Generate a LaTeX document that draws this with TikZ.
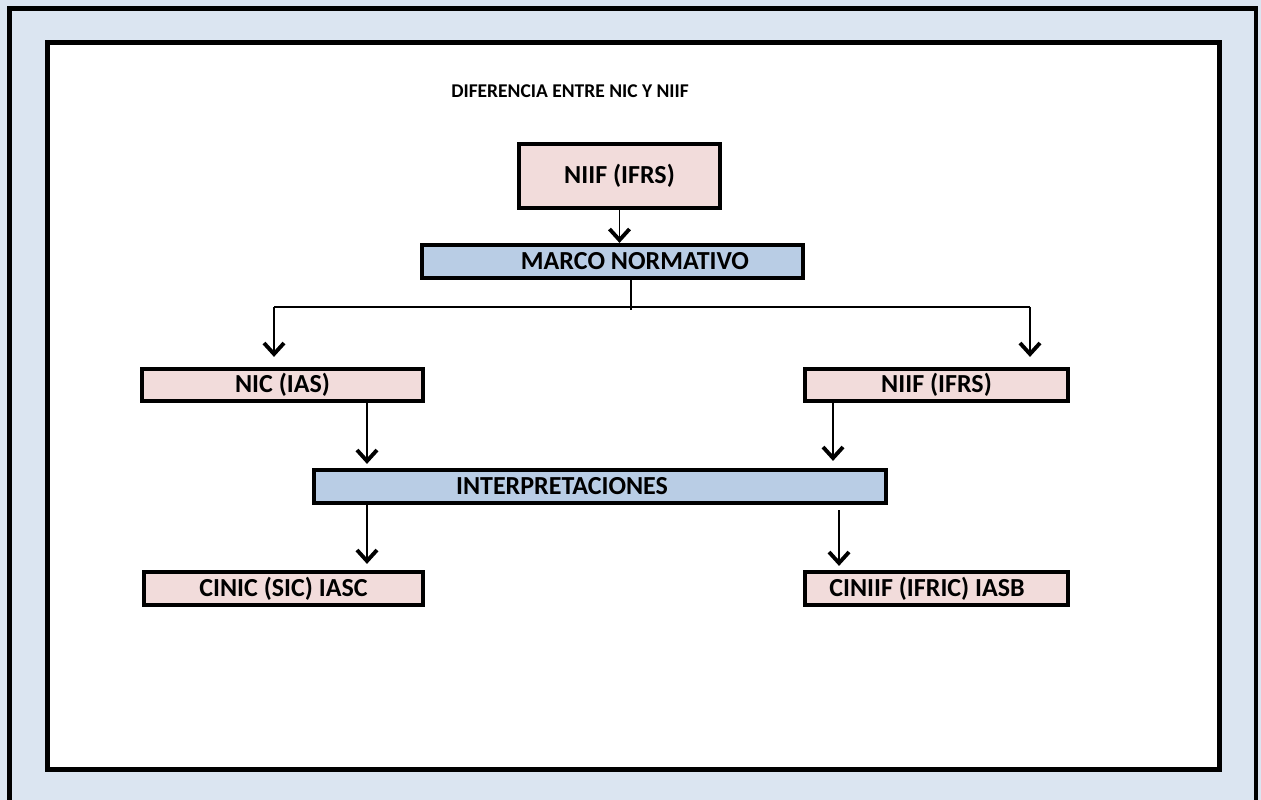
\documentclass[tikz,border=0pt]{standalone}
\usepackage{fontspec}
\setmainfont{Carlito}
\usetikzlibrary{arrows.meta}
\definecolor{pinkfill}{HTML}{F2DCDB}
\definecolor{bluefill}{HTML}{B9CDE5}
\definecolor{pagefill}{HTML}{DBE5F1}
\begin{document}
\begin{tikzpicture}[x=0.02cm, y=-0.02cm,
    pinkbox/.style ={rectangle, draw, line width=2.4pt, fill=pinkfill, inner sep=0pt, font=\fontsize{14.8}{17}\selectfont\bfseries},
    bluebox/.style ={rectangle, draw, line width=2.4pt, fill=bluefill, inner sep=0pt, font=\fontsize{14.8}{17}\selectfont\bfseries},
    link/.style ={line width=0.85pt},
    arr/.style ={line width=0.85pt, -{Straight Barb[length=0.22cm,width=0.4cm,line width=2.2pt]}}]
   \useasboundingbox (0,0) rectangle (1261,800);
   \fill[pagefill] (0,0) rectangle (1261,800);
   \draw[line width=2.8pt] (9.5,800) -- (9.5,8.5) -- (1256,8.5) -- (1256,800);
   \draw[line width=2.8pt, fill=white] (47.5,42.5) rectangle (1219.5,769.5);

   \node[font=\fontsize{11.1}{14}\selectfont\bfseries] (title) at (570,91) {DIFERENCIA ENTRE NIC Y NIIF};

   \node[pinkbox, minimum width=4.02cm, minimum height=1.28cm] (niif)  at (619.5,176) {NIIF (IFRS)};
   \node[bluebox, minimum width=7.62cm, minimum height=0.66cm] (marco) at (612.5,261.5) {\hspace*{0.9cm}MARCO NORMATIVO};
   \node[pinkbox, minimum width=5.62cm, minimum height=0.64cm] (nic)   at (282.5,385) {NIC (IAS)};
   \node[pinkbox, minimum width=5.26cm, minimum height=0.64cm] (niifr) at (936.5,385) {NIIF (IFRS)};
   \node[bluebox, minimum width=11.44cm, minimum height=0.66cm] (interp) at (600,486.5) {INTERPRETACIONES\hspace*{1.52cm}};
   \node[pinkbox, minimum width=5.58cm, minimum height=0.66cm] (cinic)  at (283.5,588.5) {CINIC (SIC) IASC};
   \node[pinkbox, minimum width=5.26cm, minimum height=0.66cm] (ciniif) at (936.5,588.5) {CINIIF (IFRIC) IASB\hspace*{0.38cm}};

   \coordinate (split) at (631,307);
   \coordinate (lft) at (274,307);
   \coordinate (rgt) at (1030,307);

   \draw[arr] (niif.south) -- (niif.south |- marco.north);
   \draw[link] (marco.south -| split) -- ([yshift=-0.06cm]split);
   \draw[link] (lft) -- (rgt);
   \draw[arr, shorten >=0.2cm] (lft) -- (lft |- nic.north);
   \draw[arr, shorten >=0.2cm] (rgt) -- (rgt |- niifr.north);
   \draw[arr, shorten >=0.08cm] ([xshift=1.69cm]nic.south) -- ([xshift=1.69cm]nic.south |- interp.north);
   \draw[arr, shorten >=0.14cm] ([xshift=-2.07cm]niifr.south) -- ([xshift=-2.07cm]niifr.south |- interp.north);
   \draw[arr, shorten >=0.12cm] (interp.south -| cinic.north) ++(1.67cm,0) coordinate (dl) -- (dl |- cinic.north);
   \draw[arr, shorten >=0.08cm] ([yshift=-0.1cm]interp.south -| ciniif.north) ++(-1.95cm,0) coordinate (dr) -- (dr |- ciniif.north);
\end{tikzpicture}
\end{document}
